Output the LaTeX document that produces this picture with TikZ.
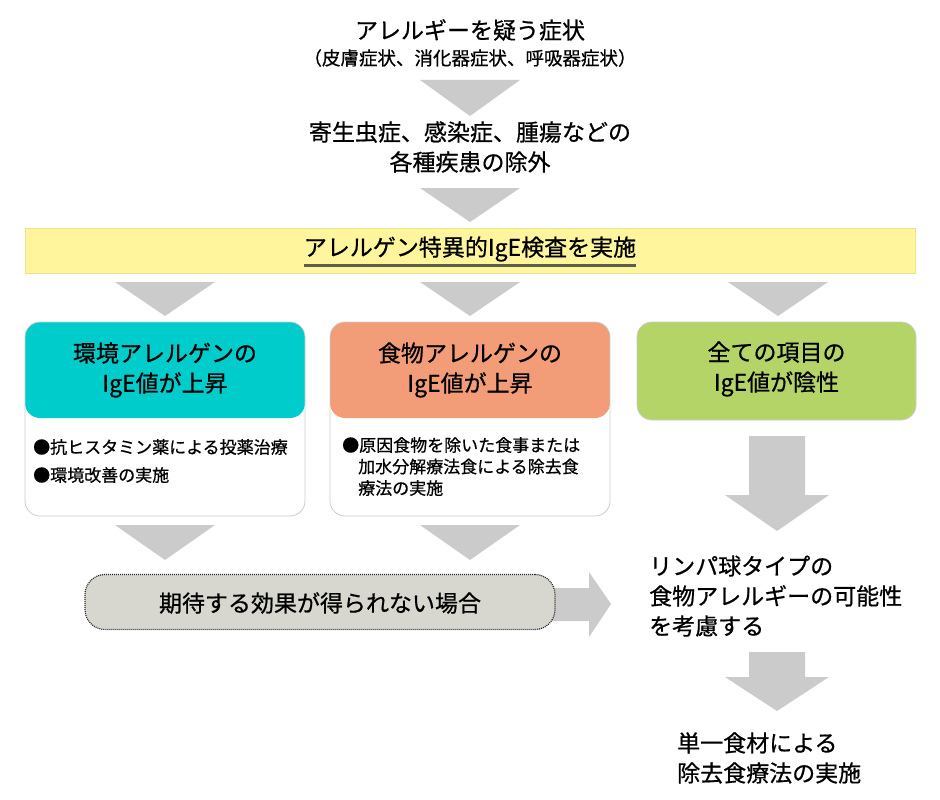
\documentclass[tikz,border=0pt]{standalone}
\usepackage{fontspec}
\setmainfont{Noto Sans CJK JP}[FakeBold=0.7]
\definecolor{arrowgray}{HTML}{CBCBCB}
\definecolor{envcyan}{HTML}{00CCCC}
\definecolor{foodsalmon}{HTML}{F29C78}
\definecolor{neggreen}{HTML}{B4D468}
\definecolor{baryellow}{HTML}{FFF59D}
\definecolor{baredge}{HTML}{EEE28A}
\definecolor{pillgray}{HTML}{D7D7CF}
\definecolor{boxedge}{HTML}{CCCCCC}
\definecolor{ulcolor}{HTML}{5E5E48}
\tikzset{
  big/.style={font=\fontsize{23}{30}\selectfont, inner sep=0pt, align=center},
  small/.style={font=\fontsize{17}{28}\selectfont, inner sep=0pt, align=left},
  cardbox/.style={draw=boxedge, line width=0.8pt, rounded corners=15pt, fill=white,
     minimum width=280pt, minimum height=194pt, inner sep=0pt},
}
\newcommand\downtri[3]{\fill[arrowgray] ({#1-50},#2) -- ({#1+50},#2) -- (#1,#3) -- cycle;}
\begin{document}
\begin{tikzpicture}[x=1pt,y=-1pt]
\useasboundingbox (0,0) rectangle (940,800);

% top texts
\node[big] (t1) at (470,30) {アレルギーを疑う症状};
\node[big, font=\fontsize{18.5}{22}\selectfont] (t1s) at (470,58) {（皮膚症状、消化器症状、呼吸器症状）};
\downtri{470}{80}{116}
\node[big] (t2) at (470,147) {寄生虫症、感染症、腫瘍などの\\各種疾患の除外};
\downtri{470}{188}{222}

% yellow bar
\node[fill=baryellow, draw=baredge, line width=0.6pt, minimum width=890pt, minimum height=45pt, inner sep=0pt] (bar) at (470,250.5) {};
\node[big] (bart) at (470,249) {アレルゲン特異的IgE検査を実施};
\draw[ulcolor, line width=3pt] ([yshift=-4pt]bart.south west) -- ([yshift=-4pt]bart.south east);

\downtri{165}{282}{316}
\downtri{470}{282}{316}
\downtri{778}{282}{316}

% box 1
\node[cardbox, path picture={\fill[envcyan] (path picture bounding box.north west) rectangle ([yshift=-96pt]path picture bounding box.north east);}] (b1) at (165,419) {};
\node[big] (b1h) at (165,370) {環境アレルゲンの\\IgE値が上昇};
\node[small, anchor=north west] (b1t) at (33,439) {●抗ヒスタミン薬による投薬治療\\●環境改善の実施};

% box 2
\node[cardbox, path picture={\fill[foodsalmon] (path picture bounding box.north west) rectangle ([yshift=-96pt]path picture bounding box.north east);}] (b2) at (470,419) {};
\node[big] (b2h) at (470,370) {食物アレルゲンの\\IgE値が上昇};
\node[small, anchor=north west, font=\fontsize{17}{21.5}\selectfont] (b2t) at (342,437) {●原因食物を除いた食事または\\\hspace*{16pt}加水分解療法食による除去食\\\hspace*{16pt}療法の実施};

% box 3
\node[draw=boxedge, line width=0.8pt, rounded corners=15pt, fill=neggreen, minimum width=279pt, minimum height=98pt, inner sep=0pt] (b3) at (776.5,371) {};
\node[big] (b3h) at (776.5,369) {全ての項目の\\IgE値が陰性};

% big down arrow 1
\fill[arrowgray] (749,436) -- (805,436) -- (805,495) -- (829,495) -- (777,531) -- (725,495) -- (749,495) -- cycle;

\downtri{165}{525}{560}
\downtri{470}{525}{560}

% right arrow behind pill
\fill[arrowgray] (540,588) -- (589,588) -- (589,572) -- (611,604) -- (589,637) -- (589,621) -- (540,621) -- cycle;

% pill
\node[draw=black!85, line width=1.2pt, dash pattern=on 1pt off 1pt, rounded corners=20pt, fill=pillgray, minimum width=470pt, minimum height=55pt, inner sep=0pt] (pill) at (320,602) {};
\node[big] (pillt) at (320,603) {期待する効果が得られない場合};

% right texts
\node[big, align=left, anchor=west] (r1) at (649,596) {リンパ球タイプの\\食物アレルギーの可能性\\を考慮する};

\fill[arrowgray] (749,652) -- (805,652) -- (805,677) -- (829,677) -- (777,711) -- (725,677) -- (749,677) -- cycle;

\node[big, align=left, anchor=west] (r2) at (677,758) {単一食材による\\除去食療法の実施};

\end{tikzpicture}
\end{document}
